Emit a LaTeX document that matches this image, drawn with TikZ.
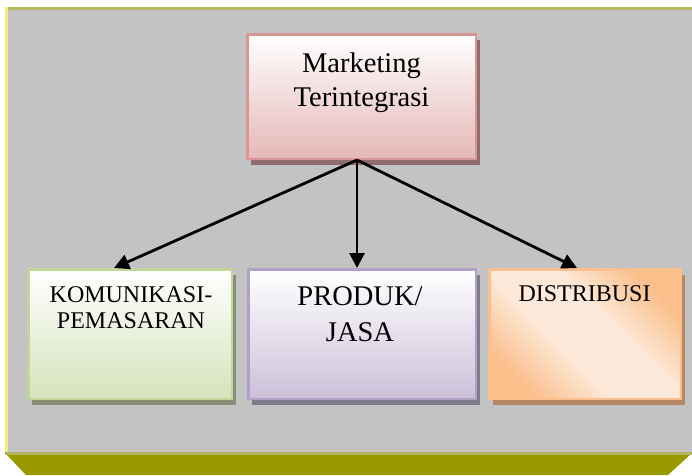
\documentclass[tikz,border=0pt]{standalone}
\usepackage{fontspec}
\setmainfont{Liberation Serif}
\usetikzlibrary{arrows.meta,shadows}
\definecolor{bggray}{HTML}{C3C3C3}
\definecolor{topline}{HTML}{B8B85C}
\definecolor{leftline}{HTML}{EEEC78}
\definecolor{olivelt}{HTML}{B3B35E}
\definecolor{olive}{HTML}{999900}
\definecolor{pinkbd}{HTML}{D99594}
\definecolor{pinkfl}{HTML}{E5B8B7}
\definecolor{pinksh}{HTML}{906C6C}
\definecolor{greenbd}{HTML}{C2D69B}
\definecolor{greenfl}{HTML}{D6E3BC}
\definecolor{greensh}{HTML}{878F76}
\definecolor{purpbd}{HTML}{B2A1C7}
\definecolor{purpfl}{HTML}{CCC0D9}
\definecolor{purpsh}{HTML}{817A8C}
\definecolor{orgbd}{HTML}{FABF8F}
\definecolor{orgdk}{HTML}{FBBF8C}
\definecolor{orglt}{HTML}{FDE9D9}
\definecolor{orgsh}{HTML}{B88865}
\pgfdeclarehorizontalshading{orgdiag}{100bp}{color(0bp)=(orgdk); color(25bp)=(orgdk); color(42bp)=(orglt); color(58bp)=(orglt); color(75bp)=(orgdk); color(100bp)=(orgdk)}
\tikzset{
  boxbase/.style={rectangle, line width=2.5pt, inner sep=0pt},
  bigtxt/.style={anchor=base, inner sep=0pt, font=\fontsize{28.5}{34}\selectfont},
  smalltxt/.style={anchor=base, inner sep=0pt, font=\fontsize{24}{28}\selectfont},
  conn/.style={line width=2.8pt, -{Triangle[length=15pt,width=15pt]}},
}
\begin{document}
\begin{tikzpicture}[x=1pt,y=-1pt]
\useasboundingbox (0,0) rectangle (692,475);
% background panel
\fill[bggray] (5,7) rectangle (692,453);
\fill[topline] (7,7) rectangle (692,9.5);
\fill[leftline] (5,7) rectangle (7.5,453);
\fill[olive] (5,453) -- (692,453) -- (668,475) -- (26,475) -- cycle;
\fill[olivelt] (5,452) rectangle (692,454.5);
% boxes
\node[boxbase, draw=pinkbd, top color=white, bottom color=pinkfl,
  drop shadow={shadow xshift=4pt, shadow yshift=-6pt, fill=pinksh, opacity=1},
  minimum width=228.5pt, minimum height=124.5pt] (top) at (361.5,96.5) {};
\node[boxbase, draw=greenbd, top color=white, bottom color=greenfl,
  drop shadow={shadow xshift=4pt, shadow yshift=-6pt, fill=greensh, opacity=1},
  minimum width=203.5pt, minimum height=129.5pt] (kom) at (130,334) {};
\node[boxbase, draw=purpbd, top color=white, bottom color=purpfl,
  drop shadow={shadow xshift=4pt, shadow yshift=-6pt, fill=purpsh, opacity=1},
  minimum width=227.5pt, minimum height=129.5pt] (prod) at (362,334) {};
\node[boxbase, draw=orgbd, shading=orgdiag, shading angle=45,
  drop shadow={shadow xshift=4pt, shadow yshift=-6pt, fill=orgsh, opacity=1},
  minimum width=191.5pt, minimum height=129.5pt] (dist) at (585,334) {};
% texts
\node[bigtxt] (t1a) at (361.5,72) {Marketing};
\node[bigtxt] (t1b) at (361.5,106) {Terintegrasi};
\node[smalltxt] (t2a) at (131,302) {KOMUNIKASI-};
\node[smalltxt] (t2b) at (131,328) {PEMASARAN};
\node[bigtxt] (t3a) at (360,305) {PRODUK/};
\node[bigtxt] (t3b) at (360,341) {JASA};
\node[smalltxt] (t4a) at (584.5,301) {DISTRIBUSI};
% connectors
\coordinate (src) at (357,160);
\coordinate (e1) at (114,268);
\coordinate (e2) at (357,268);
\coordinate (e3) at (577,268);
\draw[conn] (src) -- (e1);
\draw[conn] (src) -- (e2);
\draw[conn] (src) -- (e3);
\end{tikzpicture}
\end{document}
